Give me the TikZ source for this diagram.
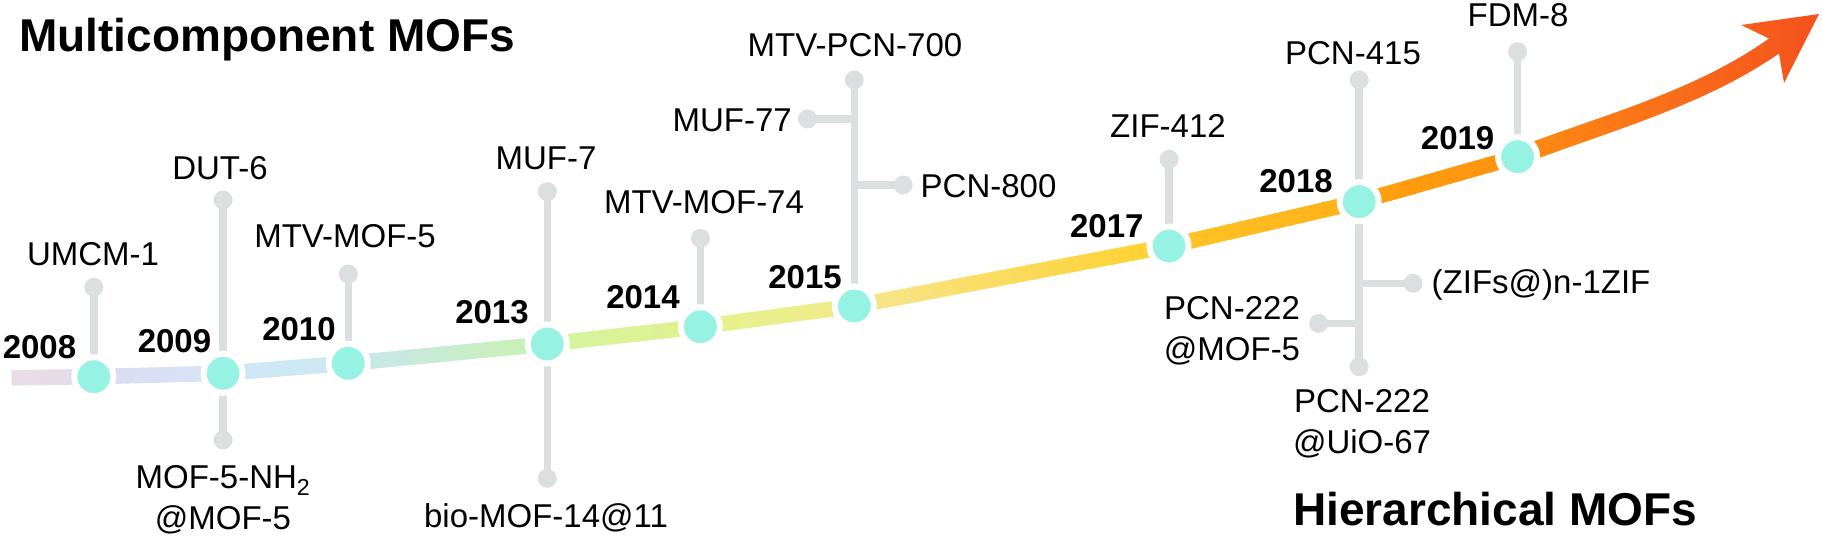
\documentclass[tikz,border=0pt]{standalone}
\usepackage{fontspec}
\setmainfont{Liberation Sans}
\usetikzlibrary{calc}
\pgfdeclarelayer{bg}
\pgfsetlayers{bg,main}
\definecolor{dotc}{RGB}{150,242,226}
\definecolor{stemc}{RGB}{220,223,223}
\definecolor{c0a}{HTML}{E8DCE6}\definecolor{c0b}{HTML}{E4DCEA}
\definecolor{c1a}{HTML}{DCDCF2}\definecolor{c1b}{HTML}{D6E4F6}
\definecolor{c2a}{HTML}{D0E6F6}\definecolor{c2b}{HTML}{CCE8F2}
\definecolor{c3a}{HTML}{C6E6EE}\definecolor{c3b}{HTML}{CAF2B0}
\definecolor{c4a}{HTML}{D4F5A0}\definecolor{c4b}{HTML}{E2F08C}
\definecolor{c5a}{HTML}{E6F290}\definecolor{c5b}{HTML}{F0EA88}
\definecolor{c6a}{HTML}{F6E68E}\definecolor{c6b}{HTML}{FFD02C}
\definecolor{c7a}{HTML}{FFC426}\definecolor{c7b}{HTML}{FFB018}
\definecolor{c8a}{HTML}{FFA20E}\definecolor{c8b}{HTML}{FF920E}
\definecolor{arrA}{HTML}{FF8C12}\definecolor{arrB}{HTML}{F4511E}
\newcommand\gseg[4]{%
  \foreach \gi in {0,...,15}{%
    \pgfmathsetmacro\gsa{\gi/16}%
    \pgfmathsetmacro\gsb{min(1,(\gi+1)/16+0.01)}%
    \pgfmathsetmacro\gmix{100-100*(\gi+0.5)/16}%
    \draw[tl,color=#3!\gmix!#4] ($(#1)!\gsa!(#2)$) -- ($(#1)!\gsb!(#2)$);
  }}
\begin{document}
\begin{tikzpicture}[x=1pt,y=-1pt,
  yeardot/.style={circle, fill=dotc, draw=white, line width=6pt, minimum size=39pt, inner sep=0pt},
  enddot/.style={circle, fill=stemc, minimum size=19pt, inner sep=0pt},
  stem/.style={draw=stemc, line width=7.5pt},
  lbl/.style={font=\fontsize{33}{41}\selectfont, inner sep=0pt},
  yr/.style={font=\fontsize{33}{40}\selectfont\bfseries, inner sep=0pt},
  ttl/.style={font=\fontsize{46}{50}\selectfont\bfseries, inner sep=0pt},
  tl/.style={line width=15.5pt}]
\useasboundingbox (0,0) rectangle (1822,540);

% year dots
\node[yeardot] (y2008) at (93.8,376.7) {};
\node[yeardot] (y2009) at (223.1,373.3) {};
\node[yeardot] (y2010) at (348.3,363.3) {};
\node[yeardot] (y2013) at (547.3,344) {};
\node[yeardot] (y2014) at (700.4,326.7) {};
\node[yeardot] (y2015) at (854.3,306) {};
\node[yeardot] (y2017) at (1169,246) {};
\node[yeardot] (y2018) at (1359.2,201.7) {};
\node[yeardot] (y2019) at (1517.6,156.7) {};
\coordinate (tlstart) at (11.5,377.7);

% end dots
\node[enddot] (d-umcm) at (93.8,287.3) {};
\node[enddot] (d-dut) at (223.1,200) {};
\node[enddot] (d-nh2) at (223.1,440) {};
\node[enddot] (d-mtv5) at (348.3,274) {};
\node[enddot] (d-muf7) at (547.3,191.7) {};
\node[enddot] (d-bio) at (547.3,478.3) {};
\node[enddot] (d-mtv74) at (700.4,238.3) {};
\node[enddot] (d-pcn700) at (854.3,80) {};
\node[enddot] (d-muf77) at (807.6,119) {};
\node[enddot] (d-pcn800) at (903.2,185) {};
\node[enddot] (d-zif412) at (1169,159.3) {};
\node[enddot] (d-pcn415) at (1359.2,80) {};
\node[enddot] (d-fdm) at (1517.6,51.7) {};
\node[enddot] (d-zifs) at (1413,283.3) {};
\node[enddot] (d-p222m) at (1318.7,323.3) {};
\node[enddot] (d-p222u) at (1359.2,366.7) {};
\coordinate (j-muf77) at (d-muf77 -| y2015);
\coordinate (j-pcn800) at (d-pcn800 -| y2015);
\coordinate (j-zifs) at (d-zifs -| y2018);
\coordinate (j-p222m) at (d-p222m -| y2018);

\begin{pgfonlayer}{bg}
\gseg{tlstart}{y2008}{c0a}{c0b}
\gseg{y2008}{y2009}{c1a}{c1b}
\gseg{y2009}{y2010}{c2a}{c2b}
\gseg{y2010}{y2013}{c3a}{c3b}
\gseg{y2013}{y2014}{c4a}{c4b}
\gseg{y2014}{y2015}{c5a}{c5b}
\gseg{y2015}{y2017}{c6a}{c6b}
\gseg{y2017}{y2018}{c7a}{c7b}
\gseg{y2018}{y2019}{c8a}{c8b}
\draw[stem] (y2008.center) -- (d-umcm.center);
\draw[stem] (y2009.center) -- (d-dut.center);
\draw[stem] (y2009.center) -- (d-nh2.center);
\draw[stem] (y2010.center) -- (d-mtv5.center);
\draw[stem] (y2013.center) -- (d-muf7.center);
\draw[stem] (y2013.center) -- (d-bio.center);
\draw[stem] (y2014.center) -- (d-mtv74.center);
\draw[stem] (y2015.center) -- (d-pcn700.center);
\draw[stem] (j-muf77) -- (d-muf77.center);
\draw[stem] (j-pcn800) -- (d-pcn800.center);
\draw[stem] (y2017.center) -- (d-zif412.center);
\draw[stem] (y2018.center) -- (d-pcn415.center);
\draw[stem] (y2018.center) -- (d-p222u.center);
\draw[stem] (j-zifs) -- (d-zifs.center);
\draw[stem] (j-p222m) -- (d-p222m.center);
\draw[stem] (y2019.center) -- (d-fdm.center);
% arrow
\coordinate (tip) at (1819,14);
\shade[left color=arrA, right color=arrB]
  (1514.5,148.5) .. controls (1601.4,115.2) and (1693,92.3) .. (1769,38.5)
  -- (1741,25) -- (tip) -- (1784,83) -- (1779,53.5)
  .. controls (1702.6,106.5) and (1607.6,131.6) .. (1520.7,164.9) -- cycle;
\end{pgfonlayer}

% titles
\node[ttl, anchor=base west] (t-multi) at (19,52) {Multicomponent MOFs};
\node[ttl, anchor=base west] (t-hier) at (1293,525) {Hierarchical MOFs};

% years
\node[yr, anchor=base] (l2008) at (39.5,358) {2008};
\node[yr, anchor=base] (l2009) at (174.5,352) {2009};
\node[yr, anchor=base] (l2010) at (299,340) {2010};
\node[yr, anchor=base] (l2013) at (492,323) {2013};
\node[yr, anchor=base] (l2014) at (643,308) {2014};
\node[yr, anchor=base] (l2015) at (805,288) {2015};
\node[yr, anchor=base east] (l2017) at (1143.7,237) {2017};
\node[yr, anchor=base] (l2018) at (1296,193) {2018};
\node[yr, anchor=base] (l2019) at (1457.6,150) {2019};

% labels
\node[lbl, anchor=base] (t-umcm) at (93,265) {UMCM-1};
\node[lbl, anchor=base] (t-dut) at (220,180) {DUT-6};
\node[lbl, anchor=base, align=center] (t-nh2) at (223,529) {MOF-5-NH\textsubscript{2}\\@MOF-5};
\node[lbl, anchor=base] (t-mtv5) at (345,247) {MTV-MOF-5};
\node[lbl, anchor=base] (t-muf7) at (546,170) {MUF-7};
\node[lbl, anchor=base] (t-bio) at (546,527) {bio-MOF-14@11};
\node[lbl, anchor=base] (t-mtv74) at (704,213) {MTV-MOF-74};
\node[lbl, anchor=base] (t-pcn700) at (855,57) {MTV-PCN-700};
\node[lbl, anchor=base east] (t-muf77) at (792,132) {MUF-77};
\node[lbl, anchor=base west] (t-pcn800) at (920.5,197) {PCN-800};
\node[lbl, anchor=base] (t-zif412) at (1168,138) {ZIF-412};
\node[lbl, anchor=base] (t-pcn415) at (1353,65) {PCN-415};
\node[lbl, anchor=base] (t-fdm) at (1518,27) {FDM-8};
\node[lbl, anchor=base west] (t-zifs) at (1431.5,293) {(ZIFs@)n-1ZIF};
\node[lbl, anchor=base, align=center] (t-p222m) at (1232,360) {PCN-222\\@MOF-5};
\node[lbl, anchor=base, align=center] (t-p222u) at (1362,453) {PCN-222\\@UiO-67};
\end{tikzpicture}
\end{document}
